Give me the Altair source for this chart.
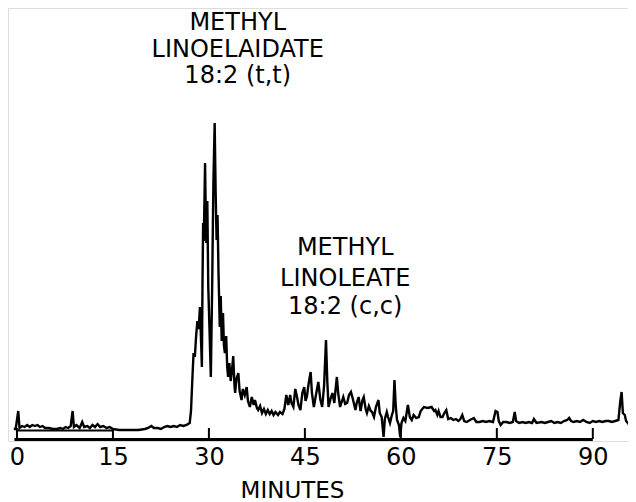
import altair as alt
import pandas as pd

# Retention time (minutes) and detector signal (arbitrary units)
minutes = [
    -0.5, -0.2, 0.2, 0.4, 0.8, 1.2, 1.6, 2.0, 2.4, 2.8, 3.2, 3.6, 4.0, 4.4, 5.0, 5.6, 6.2, 6.8,
    7.2, 7.6, 8.0, 8.4, 8.7, 8.9, 9.3, 9.8, 10.2, 10.5, 11.0, 11.4, 11.8, 12.2, 12.6, 13.0, 13.5,
    14.0, 14.5, 15.0, 16.0, 17.0, 18.0, 19.0, 20.0, 20.5, 21.0, 21.4, 22.0, 22.5, 23.0, 23.5,
    24.0, 24.5, 25.0, 25.5, 26.0, 26.5, 27.0, 27.2, 27.4, 27.6, 27.8, 28.0, 28.2, 28.4, 28.6,
    28.8, 28.9, 29.0, 29.1, 29.2, 29.4, 29.5, 29.6, 29.75, 29.9, 30.1, 30.3, 30.5, 30.7, 30.9,
    31.05, 31.2, 31.35, 31.5, 31.7, 31.85, 32.0, 32.2, 32.35, 32.5, 32.7, 32.85, 33.0, 33.2,
    33.4, 33.6, 33.8, 34.0, 34.1, 34.3, 34.6, 34.8, 35.1, 35.3, 35.6, 35.9, 36.1, 36.4, 36.7,
    37.0, 37.2, 37.5, 37.7, 38.0, 38.3, 38.6, 38.9, 39.2, 39.5, 39.8, 40.1, 40.4, 40.8, 41.1,
    41.5, 41.8, 42.1, 42.4, 42.7, 42.9, 43.2, 43.5, 43.8, 44.0, 44.3, 44.6, 44.9, 45.1, 45.3,
    45.6, 45.9, 46.1, 46.4, 46.7, 47.1, 47.4, 47.7, 48.0, 48.3, 48.5, 48.7, 49.0, 49.3, 49.6,
    49.8, 50.0, 50.2, 50.5, 50.8, 51.0, 51.3, 51.6, 51.9, 52.2, 52.5, 52.9, 53.1, 53.4, 53.7,
    54.0, 54.2, 54.5, 54.7, 55.0, 55.3, 55.5, 55.8, 56.1, 56.5, 56.7, 57.0, 57.3, 57.5, 57.8,
    58.0, 58.3, 58.6, 58.8, 59.0, 59.2, 59.4, 59.7, 59.9, 60.1, 60.4, 60.7, 61.1, 61.4, 61.7,
    62.0, 62.4, 62.8, 63.1, 63.6, 64.2, 64.8, 65.2, 65.4, 65.7, 65.9, 66.2, 66.5, 66.8, 67.1,
    67.4, 67.8, 68.2, 68.6, 69.0, 69.3, 69.6, 69.9, 70.3, 70.8, 71.4, 71.8, 72.3, 72.8, 73.3,
    73.8, 74.4, 74.8, 75.1, 75.3, 75.6, 76.0, 76.5, 77.0, 77.5, 77.8, 78.0, 78.5, 79.0, 79.5,
    80.0, 80.5, 80.8, 81.2, 82.0, 82.5, 83.0, 83.5, 84.0, 84.5, 85.0, 85.5, 86.0, 86.3, 86.6,
    87.0, 87.5, 88.0, 88.5, 89.0, 89.5, 90.0, 90.5, 91.0, 91.5, 92.0, 92.5, 93.0, 93.5, 94.0,
    94.3, 94.5, 94.7, 95.0, 95.2, 95.6, 96.0, 96.3, 96.7,
]
signal = [
    12, 12, 30, 13, 15, 14, 16, 14, 16, 15, 16, 14, 15, 13, 13, 12, 12, 13,
    12, 14, 13, 15, 30, 14, 16, 13, 19, 14, 15, 13, 16, 14, 17, 14, 15,
    13, 14, 12, 11, 11, 11, 11, 12, 13, 15, 13, 13, 12, 14, 15,
    14, 15, 14, 16, 15, 16, 18, 30, 60, 88, 84, 105, 120, 112, 134,
    95, 74, 160, 218, 200, 278, 230, 198, 240, 154, 110, 64, 150, 258, 318,
    250, 201, 226, 168, 114, 145, 100, 128, 95, 88, 105, 75, 64, 78,
    60, 70, 85, 55, 48, 62, 68, 50, 41, 52, 46, 54, 40, 34, 44,
    36, 41, 33, 31, 35, 28, 32, 27, 31, 27, 30, 26, 29, 26, 29,
    27, 32, 46, 36, 46, 38, 34, 52, 43, 36, 31, 48, 54, 40, 44,
    58, 69, 48, 34, 45, 59, 42, 34, 55, 101, 60, 34, 42, 48, 38,
    52, 64, 48, 34, 40, 44, 37, 38, 46, 49, 42, 31, 38, 44, 30,
    41, 44, 32, 28, 35, 30, 29, 24, 34, 41, 28, 24, 4, 22, 29,
    24, 18, 26, 30, 61, 35, 21, 16, 4, 18, 23, 20, 36, 24, 21,
    26, 23, 24, 30, 34, 33, 34, 30, 31, 26, 30, 24, 24, 28, 31,
    22, 23, 21, 22, 20, 22, 26, 20, 19, 21, 23, 19, 19, 20, 19,
    20, 19, 30, 29, 20, 16, 19, 19, 18, 19, 29, 20, 18, 19, 18,
    19, 18, 22, 18, 19, 18, 19, 20, 18, 19, 18, 20, 21, 23, 20,
    19, 20, 19, 21, 19, 18, 20, 19, 20, 19, 20, 20, 19, 20, 21,
    40, 49, 28, 26, 20, 17, 9, 16, 18,
]

tick_minutes = [0, 15, 30, 45, 60, 75, 90]

label_text = ["METHYL", "LINOELAIDATE", "18:2 (t,t)", "METHYL", "LINOLEATE", "18:2 (c,c)"]
label_minute = [34.5, 34.5, 34.5, 51.3, 51.3, 51.3]
label_level = [418, 391, 365, 193, 162, 134]

X_DOMAIN = [-1.4, 95.5]
Y_DOMAIN = [0, 433]
FONT = "DejaVu Sans"

xs = alt.Scale(domain=X_DOMAIN, nice=False, zero=False)
ys = alt.Scale(domain=Y_DOMAIN, nice=False, zero=False)

trace_df = pd.DataFrame({"t": minutes, "h": signal})
ticks_df = pd.DataFrame({"t": tick_minutes, "h": [2] * len(tick_minutes), "h2": [13] * len(tick_minutes)})
axis_df = pd.DataFrame({"t": [-0.4], "t2": [90.0], "h": [1.5]})
bracket_df = pd.DataFrame({"t": [0.0], "t2": [15.0], "h": [10.5]})
label_df = pd.DataFrame({"t": label_minute, "h": label_level, "label": label_text})

trace = alt.Chart(trace_df).mark_line(color="black", strokeWidth=2.4, clip=True).encode(
    x=alt.X(
        "t:Q",
        scale=xs,
        axis=alt.Axis(
            values=tick_minutes,
            ticks=False,
            domain=False,
            grid=False,
            labelFontSize=24,
            labelFont=FONT,
            labelColor="black",
            labelPadding=4,
            labelFlush=False,
            title="MINUTES",
            titleFont=FONT,
            titleFontSize=23,
            titleFontWeight="normal",
            titleColor="black",
            titleX=284,
            titleY=56,
            titleAlign="center",
            titleBaseline="alphabetic",
        ),
    ),
    y=alt.Y("h:Q", scale=ys, axis=None),
    order="t:Q",
)

axis_line = alt.Chart(axis_df).mark_rule(color="black", strokeWidth=3).encode(
    x=alt.X("t:Q", scale=xs), x2="t2:Q", y=alt.Y("h:Q", scale=ys)
)
bracket = alt.Chart(bracket_df).mark_rule(color="black", strokeWidth=2).encode(
    x=alt.X("t:Q", scale=xs), x2="t2:Q", y=alt.Y("h:Q", scale=ys)
)
tick_marks = alt.Chart(ticks_df).mark_rule(color="black", strokeWidth=2).encode(
    x=alt.X("t:Q", scale=xs), y=alt.Y("h:Q", scale=ys), y2="h2:Q"
)
labels = alt.Chart(label_df).mark_text(
    font=FONT, fontSize=24, color="black", align="center", baseline="middle"
).encode(x=alt.X("t:Q", scale=xs), y=alt.Y("h:Q", scale=ys), text="label:N")

chart = (
    alt.layer(trace, axis_line, bracket, tick_marks, labels)
    .properties(
        width=620,
        height=433,
        padding={"left": 0, "right": 0, "top": 0, "bottom": 60},
        autosize=alt.AutoSizeParams(type="none"),
    )
    .configure_view(stroke=None)
    .configure(background="white")
)

chart.save("out.html", embed_options={"renderer": "svg", "actions": False})
